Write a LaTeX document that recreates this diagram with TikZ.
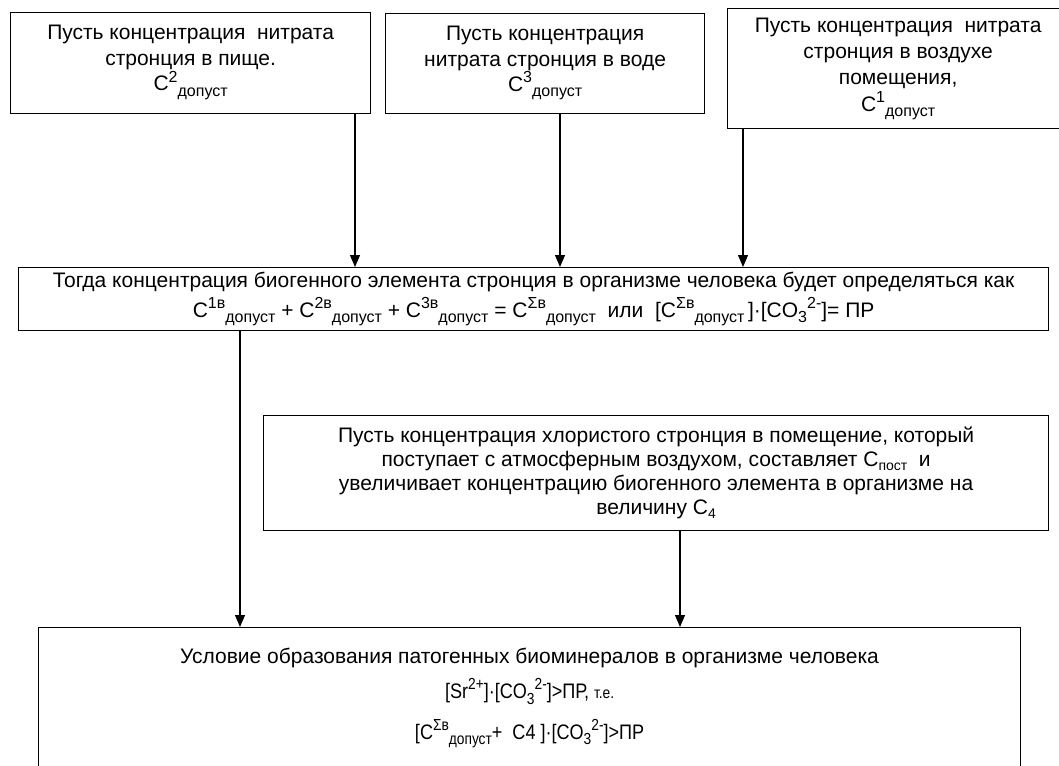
\documentclass[tikz,border=0pt]{standalone}
\usepackage{fontspec}
\setmainfont{Liberation Sans}
\newfontfamily\narrowfont[FakeStretch=0.86]{Liberation Sans}
\usetikzlibrary{arrows.meta}

% word-style indices
\newcommand\supx[1]{\raisebox{0.42em}{\fontsize{16}{16}\selectfont #1}}
\newcommand\subx[1]{\raisebox{-0.25em}{\fontsize{16}{16}\selectfont #1}}
\newcommand\subsm[1]{\raisebox{-0.2em}{\fontsize{14}{14}\selectfont #1}}

\begin{document}
\begin{tikzpicture}[x=1pt,y=-1pt,
    box/.style={draw, line width=1.2pt, align=center, inner sep=0pt,
      anchor=north west, font=\fontsize{21}{24}\selectfont},
    arr/.style={-{Triangle[length=12pt,width=10pt]}, line width=1.2pt}]

  \useasboundingbox (0,0) rectangle (1059,765);

  % sources
  \node[box, minimum width=360pt, minimum height=101pt] (pishcha) at (10,12)
    {Пусть концентрация\ \ нитрата\\[2pt]стронция в пище.\\C\supx{2}\subx{допуст}\\[-14pt]\mbox{}};
  \node[box, minimum width=319pt, minimum height=100pt] (voda) at (385,13)
    {Пусть концентрация\\[2pt]нитрата стронция в воде\\C\supx{3}\subx{допуст}\\[-14pt]\mbox{}};
  \node[box, minimum width=341pt, minimum height=120pt] (vozduh) at (727,8)
    {Пусть концентрация\ \ нитрата\\[2pt]стронция в воздухе\\[2pt]помещения,\\[2pt]C\supx{1}\subx{допуст}};

  % sum
  \node[box, minimum width=1030pt, minimum height=63pt] (summa) at (18,267)
    {Тогда концентрация биогенного элемента стронция в организме человека будет определяться как\\[4pt]
     C\supx{1в}\subx{допуст} + C\supx{2в}\subx{допуст} + C\supx{3в}\subx{допуст} = C\supx{Σв}\subx{допуст}\ \ или\ \ [C\supx{Σв}\subx{допуст}\,]·[CO\subx{3}\supx{2-}]= ПР};

  % extra source
  \node[box, minimum width=785pt, minimum height=115pt] (hlor) at (263,415)
    {Пусть концентрация хлористого стронция в помещение, который\\
     поступает с атмосферным воздухом, составляет C\subsm{пост}\ \ и\\
     увеличивает концентрацию биогенного элемента в организме на\\
     величину C\subsm{4}};

  % condition
  \node[box, minimum width=982pt, minimum height=150pt] (uslovie) at (38,627)
    {Условие образования патогенных биоминералов в организме человека\\[10pt]
     {\narrowfont [Sr\supx{2+}]·[CO\subx{3}\supx{2-}]>ПР, {\fontsize{16}{16}\selectfont т.е.}}\\[14pt]
     {\narrowfont [C\supx{Σв}\subx{допуст}+\ \ C4 ]·[CO\subx{3}\supx{2-}]>ПР}\\[-6pt]\mbox{}};

  % connectors
  \coordinate (x1) at (355,0);
  \coordinate (x2) at (560,0);
  \coordinate (x3) at (743,0);
  \coordinate (x4) at (240,0);
  \coordinate (x5) at (680,0);
  \draw[arr] (pishcha.south -| x1) -- (summa.north -| x1);
  \draw[arr] (voda.south -| x2) -- (summa.north -| x2);
  \draw[arr] (vozduh.south -| x3) -- (summa.north -| x3);
  \draw[arr] (summa.south -| x4) -- (uslovie.north -| x4);
  \draw[arr] (hlor.south -| x5) -- (uslovie.north -| x5);

\end{tikzpicture}
\end{document}
